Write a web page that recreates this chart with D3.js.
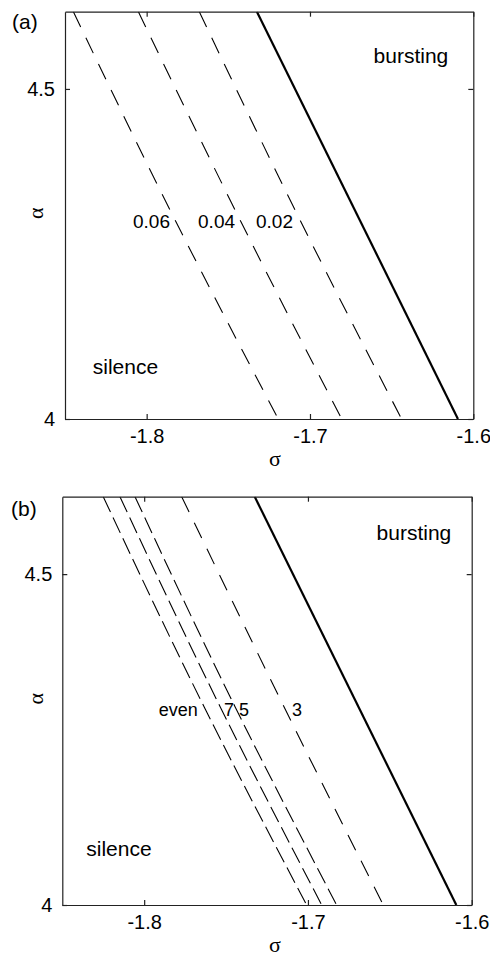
<!DOCTYPE html>
<html>
<head>
<meta charset="utf-8">
<script src="https://cdn.jsdelivr.net/npm/d3@7"></script>
<style>
  html, body { margin: 0; padding: 0; background: #fff; }
  svg { display: block; }
  text { font-family: "Liberation Sans", Arial, Helvetica, sans-serif; fill: #000; }
  .sym { font-family: "Liberation Serif", "Times New Roman", serif; }
</style>
</head>
<body>
<svg id="fig" width="490" height="956"></svg>
<script>
// Axis ranges and ticks
const sigmaDomain = [-1.85, -1.6];
const alphaDomain = [4, 4.617];
const sigmaTicks = [-1.8, -1.7, -1.6];
const alphaTicks = [4, 4.5];

// α levels at which each dashed curve's σ is listed (top edge, middle, bottom edge)
const alphaPts = [4.617, 4.3, 4.0];
// the boundary is a straight line, given at the top and bottom edges
const boundaryAlpha = [4.617, 4.0];
const boundarySigma = [-1.7325, -1.6094];

// Panel (a): contours of constant value
const aSigma006 = [-1.8449, -1.7823, -1.7194];
const aSigma004 = [-1.8051, -1.7425, -1.6806];
const aSigma002 = [-1.7678, -1.7058, -1.6439];
const aLabels = ["0.06", "0.04", "0.02"];
const aLabelSigma = [-1.7857, -1.7459, -1.7104];
const aLabelAlpha = 4.289;

// Panel (b): curves for the even / 7 / 5 / 3 cases
const bSigmaEven = [-1.8250, -1.7635, -1.7008];
const bSigma7 = [-1.8148, -1.7537, -1.6916];
const bSigma5 = [-1.8056, -1.7446, -1.6825];
const bSigma3 = [-1.7771, -1.7147, -1.6540];
const bLabels = ["even", "7", "5", "3"];
const bLabelSigma = [-1.7672, -1.7513, -1.7421, -1.7098];
const bLabelAnchor = ["end", "start", "start", "start"];
const bLabelAlpha = 4.286;

// Region names
const regionNames = ["bursting", "silence"];

const svg = d3.select("#fig");

function drawPanel(cfg) {
  const { left, right, top, bottom, tag, curves, labels, labelSigma, labelAnchor,
          labelAlpha, labelSize, dashes, regionPos, panelLetter, letterPos } = cfg;

  const x = d3.scaleLinear().domain(sigmaDomain).range([left, right]);
  const y = d3.scaleLinear().domain(alphaDomain).range([bottom, top]);

  const clipId = "clip-" + tag;
  svg.append("clipPath").attr("id", clipId)
    .append("rect").attr("x", left).attr("y", top)
    .attr("width", right - left).attr("height", bottom - top);

  const g = svg.append("g");

  const line = d3.line()
    .x(d => x(d[0]))
    .y(d => y(d[1]))
    .curve(d3.curveMonotoneY);

  const plot = g.append("g").attr("clip-path", `url(#${clipId})`);

  // dashed curves
  curves.forEach((sig, i) => {
    const pts = sig.map((s, k) => [s, alphaPts[k]]);
    plot.append("path")
      .attr("d", line(pts))
      .attr("fill", "none")
      .attr("stroke", "#000")
      .attr("stroke-width", 1.1)
      .attr("stroke-dasharray", dashes[i]);
  });

  // solid boundary
  plot.append("path")
    .attr("d", line(boundarySigma.map((s, k) => [s, boundaryAlpha[k]])))
    .attr("fill", "none")
    .attr("stroke", "#000")
    .attr("stroke-width", 2.2);

  // axes: ticks inward on all four sides
  const fontPx = 21;
  const tickPx = 20;
  const bottomAxis = d3.axisBottom(x).tickValues(sigmaTicks).tickSizeInner(-5)
    .tickSizeOuter(0).tickPadding(10).tickFormat(d => d.toFixed(1));
  const topAxis = d3.axisTop(x).tickValues(sigmaTicks).tickSizeInner(-5)
    .tickSizeOuter(0).tickFormat("");
  const leftAxis = d3.axisLeft(y).tickValues(alphaTicks).tickSizeInner(-5)
    .tickSizeOuter(0).tickPadding(10).tickFormat(d => String(d));
  const rightAxis = d3.axisRight(y).tickValues(alphaTicks).tickSizeInner(-5)
    .tickSizeOuter(0).tickFormat("");

  const axes = [
    [bottomAxis, `translate(0,${bottom})`],
    [topAxis, `translate(0,${top})`],
    [leftAxis, `translate(${left},0)`],
    [rightAxis, `translate(${right},0)`]
  ];
  axes.forEach(([ax, tr]) => {
    const a = g.append("g").attr("transform", tr).call(ax);
    a.select(".domain").attr("stroke", "#222").attr("stroke-width", 1.2);
    a.selectAll(".tick line").attr("stroke", "#222").attr("stroke-width", 1.2);
    a.selectAll(".tick text")
      .style("font-family", '"Liberation Sans", Arial, Helvetica, sans-serif')
      .style("font-size", tickPx + "px")
      .attr("fill", "#000");
  });

  // axis titles
  g.append("text").attr("class", "sym")
    .attr("x", 275).attr("y", bottom + 47)
    .attr("text-anchor", "middle")
    .style("font-size", "22px")
    .text("σ");
  g.append("text").attr("class", "sym")
    .attr("transform", `translate(43,${(top + bottom) / 2 - 2}) rotate(-90)`)
    .attr("text-anchor", "middle")
    .style("font-size", "22px")
    .text("α");

  // curve labels
  labels.forEach((t, i) => {
    g.append("text")
      .attr("x", x(labelSigma[i]))
      .attr("y", y(labelAlpha))
      .attr("text-anchor", labelAnchor[i])
      .style("font-size", labelSize + "px")
      .text(t);
  });

  // region names
  regionNames.forEach((t, i) => {
    g.append("text")
      .attr("x", x(regionPos[i][0]))
      .attr("y", y(regionPos[i][1]))
      .attr("text-anchor", "middle")
      .style("font-size", fontPx + "px")
      .text(t);
  });

  // panel letter
  g.append("text")
    .attr("x", letterPos[0]).attr("y", letterPos[1])
    .style("font-size", fontPx + "px")
    .text(panelLetter);
}

drawPanel({
  tag: "a",
  left: 65, right: 473.3, top: 11.7, bottom: 419,
  curves: [aSigma006, aSigma004, aSigma002],
  dashes: ["17,12", "17,12", "17,12"],
  labels: aLabels,
  labelSigma: aLabelSigma,
  labelAnchor: ["end", "end", "end"],
  labelAlpha: aLabelAlpha,
  labelSize: 19,
  regionPos: [[-1.6382, 4.5391], [-1.8130, 4.0682]],
  panelLetter: "(a)",
  letterPos: [12, 28.5]
});

drawPanel({
  tag: "b",
  left: 62.3, right: 471.7, top: 496.7, bottom: 905,
  curves: [bSigmaEven, bSigma7, bSigma5, bSigma3],
  dashes: ["17,6", "17,6", "17,6", "17,12"],
  labels: bLabels,
  labelSigma: bLabelSigma,
  labelAnchor: bLabelAnchor,
  labelAlpha: bLabelAlpha,
  labelSize: 18,
  regionPos: [[-1.6353, 4.5510], [-1.8154, 4.0741]],
  panelLetter: "(b)",
  letterPos: [11, 515.5]
});
</script>
</body>
</html>
